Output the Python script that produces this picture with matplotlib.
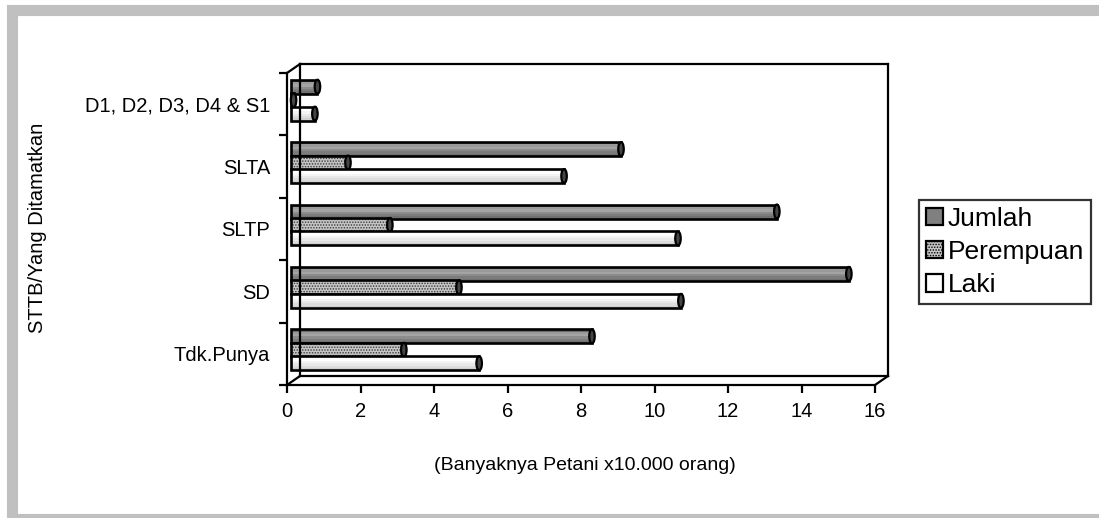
import matplotlib
matplotlib.use("Agg")
import matplotlib.pyplot as plt
import matplotlib.transforms as mtransforms
from matplotlib.patches import Ellipse, Rectangle, Patch
from matplotlib.lines import Line2D
import numpy as np

plt.rcParams['font.family'] = ['Liberation Sans', 'DejaVu Sans']
plt.rcParams['hatch.color'] = '#3a3a3a'
plt.rcParams['hatch.linewidth'] = 0.7

# data (x10.000 orang), bottom to top
categories = ['Tdk.Punya', 'SD', 'SLTP', 'SLTA', 'D1, D2, D3, D4 & S1']
jumlah = [8.19, 15.18, 13.22, 8.98, 0.72]
perempuan = [3.07, 4.57, 2.69, 1.55, 0.07]
laki = [5.12, 10.61, 10.53, 7.43, 0.65]
series_names = ['Jumlah', 'Perempuan', 'Laki']
xticks = [0, 2, 4, 6, 8, 10, 12, 14, 16]

W, H = 1099, 518
fig = plt.figure(figsize=(W / 100, H / 100), dpi=100)
fig.patch.set_facecolor('white')

# grey frame round the picture
fig.add_artist(Rectangle((12 / W, -0.5 / H), 1100 / W, 508.5 / H, transform=fig.transFigure,
                         fill=False, edgecolor='#c0c0c0', lw=8, clip_on=False))

ax = fig.add_axes([287 / W, 133 / H, 588 / W, 312 / H])
ax.set_xlim(0, 16)
ax.set_ylim(-0.5, 4.5)
ax.set_facecolor('none')

for s in ['top', 'right']:
    ax.spines[s].set_visible(False)
for s in ['left', 'bottom']:
    ax.spines[s].set_linewidth(1.6)

y = np.arange(len(categories))
ax.set_yticks(y)
ax.set_yticklabels(categories, fontsize=14.5)
ax.set_yticks(np.arange(-0.5, len(categories), 1), minor=True)
ax.tick_params(axis='y', which='major', length=0, pad=12)
ax.tick_params(axis='y', which='minor', length=6, width=1.6, direction='out')
ax.set_xticks(xticks)
ax.tick_params(axis='x', length=6, width=1.6, direction='out', labelsize=14.5, pad=6)

fig.text(585 / W, 1 - 465 / H, '(Banyaknya Petani x10.000 orang)', fontsize=14,
         ha='center', va='center')
fig.text(38 / W, 1 - 228 / H, 'STTB/Yang Ditamatkan', fontsize=14.5, rotation=90,
         ha='center', va='center')

# back plane of the 3d box
back = mtransforms.offset_copy(ax.transData, fig=fig, x=13, y=9, units='dots')
kw = dict(color='black', lw=1.6, clip_on=False, solid_capstyle='projecting')
ax.plot([0, 0], [-0.5, 4.5], transform=back, **kw)
ax.plot([0, 16], [-0.5, -0.5], transform=back, **kw)
ax.plot([0, 16], [4.5, 4.5], transform=back, **kw)
ax.plot([16, 16], [-0.5, 4.5], transform=back, **kw)
for px, py in [(0, 4.5), (0, -0.5), (16, -0.5)]:
    a = ax.transData.transform((px, py))
    b = back.transform((px, py))
    fig.add_artist(Line2D([a[0] / W, b[0] / W], [a[1] / H, b[1] / H],
                          transform=fig.transFigure, **kw))

# bars, drawn a little into the depth
mid = mtransforms.offset_copy(ax.transData, fig=fig, x=4, y=4, units='dots')
h = 0.224
off = [0.216, 0.0, -0.216]
shades = {
    'Jumlah': ['#6a6a6a', '#9a9a9a', '#a4a4a4', '#8c8c8c', '#7c7c7c', '#707070'],
    'Laki': ['#ffffff', '#ffffff', '#f4f4f4', '#e8e8e8', '#dcdcdc', '#d0d0d0'],
}
cap_w = 5.5 / 36.75
for vals, name, o in zip([jumlah, perempuan, laki], series_names, off):
    yc = y + o
    if name in shades:
        n = len(shades[name])
        for k, c in enumerate(shades[name]):
            ax.barh(yc + h / 2 - (k + 0.5) * h / n, vals, height=h / n, color=c,
                    lw=0, transform=mid, clip_on=False)
    else:
        ax.barh(yc, vals, height=h, color='#c4c4c4', hatch='......', lw=0,
                transform=mid, clip_on=False)
    ax.barh(yc, vals, height=h, fill=False, edgecolor='black', lw=1.9,
            transform=mid, clip_on=False)
    for v, yy in zip(vals, yc):
        ax.add_patch(Ellipse((v, yy), cap_w, h, facecolor='#454545', edgecolor='black',
                             lw=1.6, transform=mid, clip_on=False))

handles = [
    Patch(facecolor='#808080', edgecolor='black', lw=1.6),
    Patch(facecolor='#c4c4c4', edgecolor='black', lw=1.6, hatch='......'),
    Patch(facecolor='white', edgecolor='black', lw=1.6),
]
leg = fig.legend(handles, series_names, loc='upper left', bbox_to_anchor=(919 / W, 1 - 200 / H),
                 bbox_transform=fig.transFigure, fontsize=19, frameon=True, fancybox=False,
                 edgecolor='black', handlelength=0.65, handleheight=0.65, handletextpad=0.2,
                 labelspacing=0.35, borderpad=0.25, borderaxespad=0)
leg.get_frame().set_linewidth(1.6)

fig.savefig('out.png', dpi=100)
